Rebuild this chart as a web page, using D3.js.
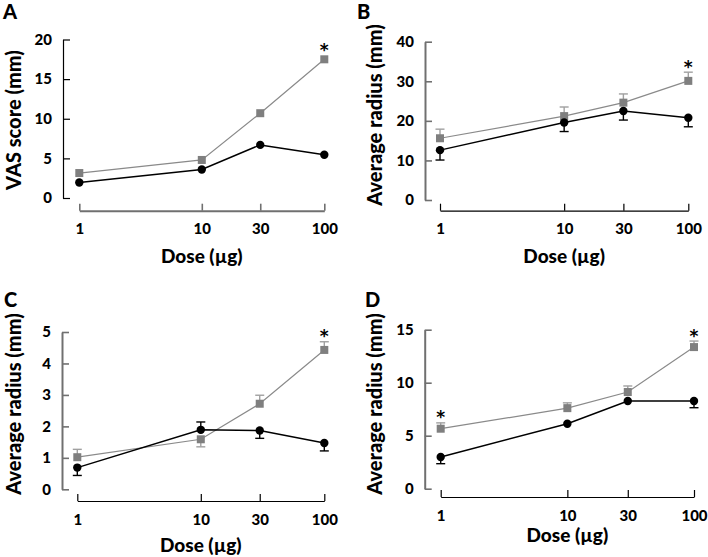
<!DOCTYPE html>
<html>
<head>
<meta charset="utf-8">
<script src="https://cdn.jsdelivr.net/npm/d3@7"></script>
<style>
  body { margin: 0; background: #fff; }
  svg { display: block; font-family: Lato, "Open Sans", sans-serif; }
</style>
</head>
<body>
<svg id="chart" width="708" height="557"></svg>
<script>
// ---- data ----
const doses = [1, 10, 30, 100];
const doseLabels = ["1", "10", "30", "100"];

// Panel A: VAS score (mm)
const aGrayMean  = [3.15, 4.8, 10.7, 17.5];
const aGrayErr   = [0, 0, 0, 0];
const aBlackMean = [1.95, 3.6, 6.7, 5.45];
const aBlackErr  = [0, 0, 0, 0];
const aYTicks = [0, 5, 10, 15, 20];
const aStars = [100];

// Panel B: Average radius (mm)
const bGrayMean  = [15.6, 21.2, 24.6, 30.1];
const bGrayErr   = [2.3, 2.3, 2.2, 2.2];
const bBlackMean = [12.6, 19.6, 22.5, 20.8];
const bBlackErr  = [2.5, 2.3, 2.3, 2.3];
const bYTicks = [0, 10, 20, 30, 40];
const bStars = [100];

// Panel C: Average radius (mm)
const cGrayMean  = [1.02, 1.59, 2.72, 4.43];
const cGrayErr   = [0.25, 0.24, 0.27, 0.26];
const cGrayDir   = [1, -1, 1, 1];
const cBlackMean = [0.69, 1.89, 1.87, 1.47];
const cBlackErr  = [0.25, 0.25, 0.25, 0.25];
const cBlackDir  = [-1, 1, -1, -1];
const cYTicks = [0, 1, 2, 3, 4, 5];
const cStars = [100];

// Panel D: Average radius (mm)
const dGrayMean  = [5.66, 7.6, 9.12, 13.36];
const dGrayErr   = [0.55, 0.5, 0.57, 0.57];
const dBlackMean = [2.99, 6.13, 8.27, 8.27];
const dBlackErr  = [0.63, 0, 0, 0.63];
const dYTicks = [0, 5, 10, 15];
const dStars = [1, 100];

const panels = [
  { letter: "A", ylabel: "VAS score (mm)", gray: aGrayMean, grayErr: aGrayErr, grayDir: [1,1,1,1],
    black: aBlackMean, blackErr: aBlackErr, blackDir: [-1,-1,-1,-1], yTicks: aYTicks, stars: aStars,
    L: { yAxisX: 63, yTop: 39.5, yBot: 198, xAxisY: 210.7, xL: 79.3, xR: 324.3,
         yStyle: "thin", xStyle: "thick", letterX: 3, letterY: 19, ylabX: 13, ylabY: 120, xlabY: 255 } },
  { letter: "B", ylabel: "Average radius (mm)", gray: bGrayMean, grayErr: bGrayErr, grayDir: [1,1,1,1],
    black: bBlackMean, blackErr: bBlackErr, blackDir: [-1,-1,-1,-1], yTicks: bYTicks, stars: bStars,
    L: { yAxisX: 425, yTop: 41.7, yBot: 200, xAxisY: 210.7, xL: 440, xR: 688.3,
         yStyle: "thick", xStyle: "thin", letterX: 357, letterY: 19, ylabX: 374, ylabY: 115, xlabY: 255 } },
  { letter: "C", ylabel: "Average radius (mm)", gray: cGrayMean, grayErr: cGrayErr, grayDir: cGrayDir,
    black: cBlackMean, blackErr: cBlackErr, blackDir: cBlackDir, yTicks: cYTicks, stars: cStars,
    L: { yAxisX: 62, yTop: 332, yBot: 489.3, xAxisY: 501, xL: 77.3, xR: 324.3,
         yStyle: "thick", xStyle: "thin", letterX: 4, letterY: 307, ylabX: 13, ylabY: 404, xlabY: 544 } },
  { letter: "D", ylabel: "Average radius (mm)", gray: dGrayMean, grayErr: dGrayErr, grayDir: [1,1,1,1],
    black: dBlackMean, blackErr: dBlackErr, blackDir: [-1,-1,-1,-1], yTicks: dYTicks, stars: dStars,
    L: { yAxisX: 424.7, yTop: 329.7, yBot: 488.7, xAxisY: 497, xL: 440.7, xR: 694,
         yStyle: "thick", xStyle: "thin", letterX: 365, letterY: 307, ylabX: 374, ylabY: 404, xlabY: 534 } }
];

const svg = d3.select("#chart");
const GRAY_AXIS = "#707070";
const GRAY_LINE = "#8a8a8a";
const GRAY_MARK = "#7f7f7f";
const GRAY_ERR = "#a0a0a0";
const FONT = "Lato, sans-serif";

function styleAxis(g, style) {
  const col = style === "thick" ? GRAY_AXIS : "#000";
  const w = style === "thick" ? 2 : 1.2;
  g.selectAll("path.domain").attr("stroke", col).attr("stroke-width", w);
  g.selectAll(".tick line").attr("stroke", col).attr("stroke-width", style === "thick" ? 1.6 : 1.2);
  g.selectAll(".tick text").attr("fill", "#000").attr("font-size", 15).attr("font-weight", 900)
    .attr("font-family", FONT);
}

panels.forEach(p => {
  const L = p.L;
  const x = d3.scaleLog().domain([1, 100]).range([L.xL, L.xR]);
  const yMax = p.yTicks[p.yTicks.length - 1];
  const y = d3.scaleLinear().domain([0, yMax]).range([L.yBot, L.yTop]);
  const g = svg.append("g");

  // y axis
  const yAx = g.append("g").attr("transform", `translate(${L.yAxisX},0)`)
    .call(d3.axisLeft(y).tickValues(p.yTicks).tickFormat(d3.format("d"))
      .tickSizeInner(-7).tickSizeOuter(0).tickPadding(11));
  styleAxis(yAx, L.yStyle);

  // x axis
  const xAx = g.append("g").attr("transform", `translate(0,${L.xAxisY})`)
    .call(d3.axisBottom(x).tickValues(doses).tickFormat((d, i) => doseLabels[i])
      .tickSizeInner(-7).tickSizeOuter(0).tickPadding(13));
  styleAxis(xAx, L.xStyle);

  // labels
  g.append("text").attr("x", L.letterX).attr("y", L.letterY).attr("font-family", FONT)
    .attr("font-size", 20).attr("font-weight", 900).text(p.letter);
  g.append("text").attr("transform", `translate(${L.ylabX},${L.ylabY}) rotate(-90)`)
    .attr("text-anchor", "middle").attr("dominant-baseline", "central").attr("font-family", FONT)
    .attr("font-size", 20).attr("font-weight", 900).text(p.ylabel);
  g.append("text").attr("x", (L.xL + L.xR) / 2).attr("y", L.xlabY)
    .attr("text-anchor", "middle").attr("dominant-baseline", "central").attr("font-family", FONT)
    .attr("font-size", 19).attr("font-weight", 900).text("Dose (\u00b5g)");

  const line = d3.line().x((d, i) => x(doses[i])).y(d => y(d));

  function errBars(vals, errs, dirs, color) {
    vals.forEach((v, i) => {
      if (!errs[i]) return;
      const cx = x(doses[i]);
      const y0 = y(v), y1 = y(v + dirs[i] * errs[i]);
      g.append("line").attr("x1", cx).attr("x2", cx).attr("y1", y0).attr("y2", y1)
        .attr("stroke", color).attr("stroke-width", 1.4);
      g.append("line").attr("x1", cx - 4.5).attr("x2", cx + 4.5).attr("y1", y1).attr("y2", y1)
        .attr("stroke", color).attr("stroke-width", 1.4);
    });
  }

  errBars(p.gray, p.grayErr, p.grayDir, GRAY_ERR);
  errBars(p.black, p.blackErr, p.blackDir, "#000");

  g.append("path").datum(p.gray).attr("d", line).attr("fill", "none")
    .attr("stroke", GRAY_LINE).attr("stroke-width", 1.2);
  g.append("path").datum(p.black).attr("d", line).attr("fill", "none")
    .attr("stroke", "#000").attr("stroke-width", 1.5);

  g.selectAll(null).data(p.gray).enter().append("rect")
    .attr("x", (d, i) => x(doses[i]) - 4).attr("y", d => y(d) - 4)
    .attr("width", 8).attr("height", 8).attr("fill", GRAY_MARK);
  g.selectAll(null).data(p.black).enter().append("circle")
    .attr("cx", (d, i) => x(doses[i])).attr("cy", d => y(d)).attr("r", 4.2).attr("fill", "#000");

  // significance stars
  p.stars.forEach(s => {
    const i = doses.indexOf(s);
    const top = p.grayDir[i] > 0 && p.grayErr[i] ? y(p.gray[i] + p.grayErr[i]) : y(p.gray[i]) - 4;
    g.append("text").attr("x", x(s)).attr("y", top + 0.5).attr("text-anchor", "middle")
      .attr("font-family", "DejaVu Sans, sans-serif").attr("fill", "#000")
      .attr("font-size", 17).attr("font-weight", 700).text("*");
  });
});
</script>
</body>
</html>
